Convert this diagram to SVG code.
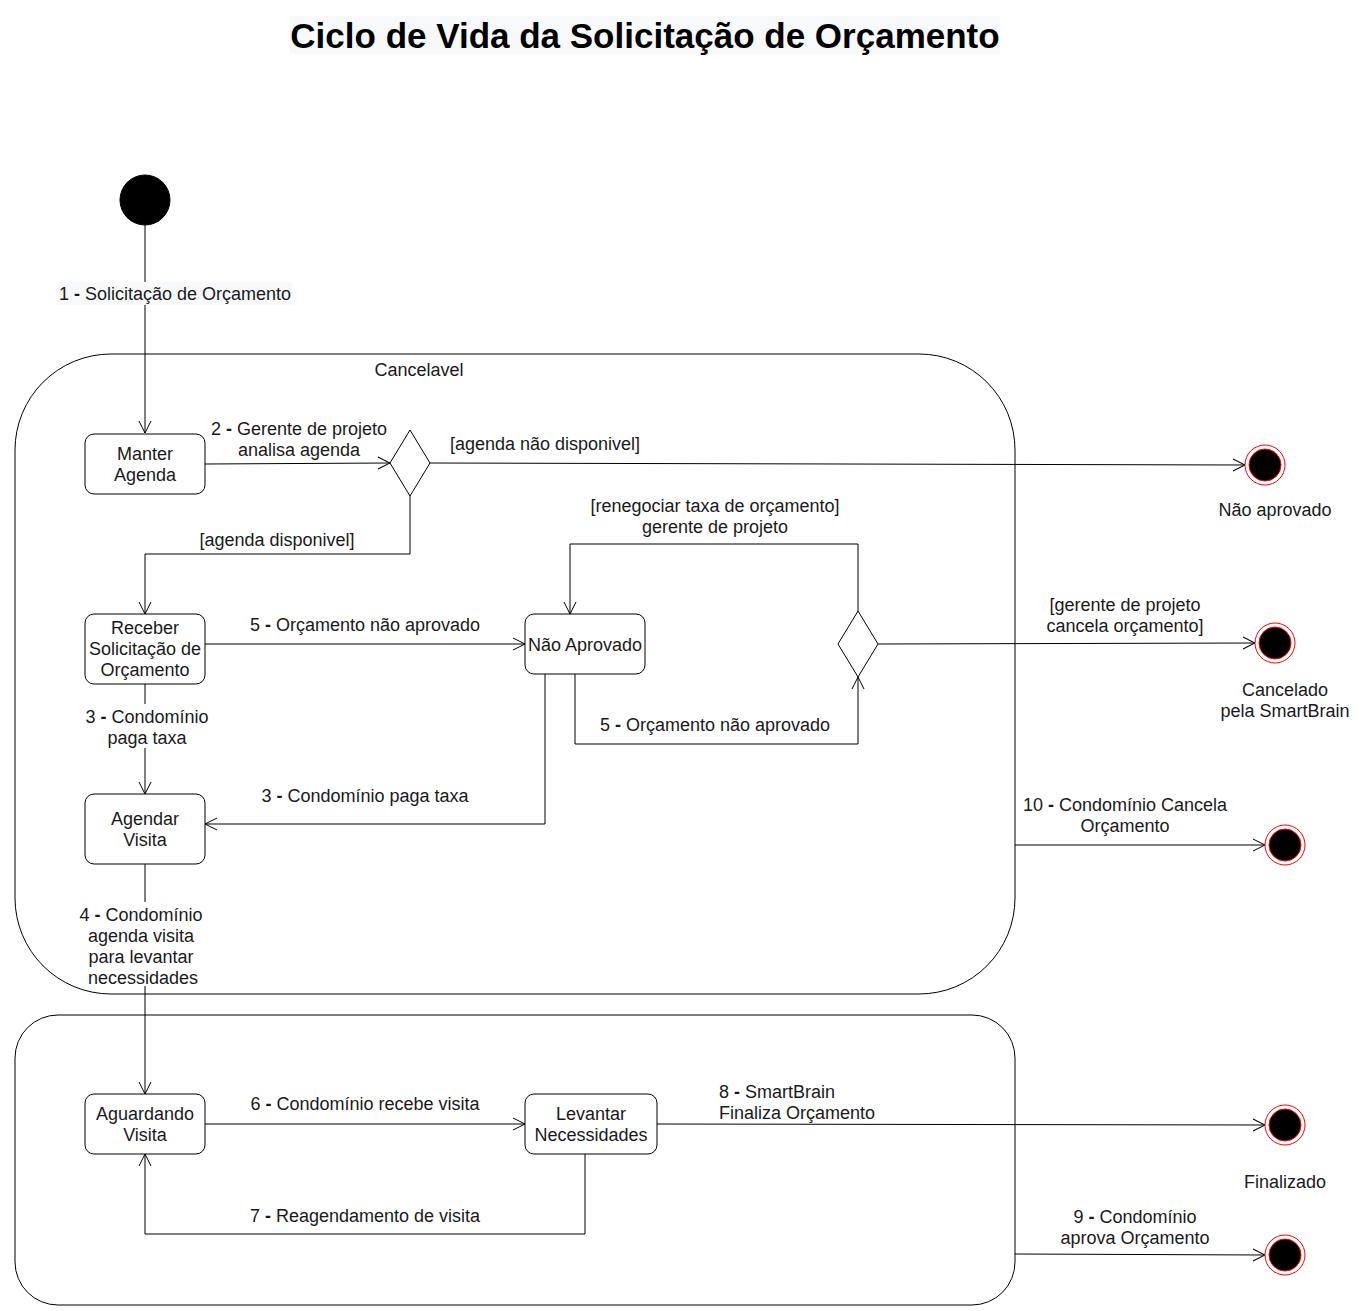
<svg xmlns="http://www.w3.org/2000/svg" width="1366" height="1311" viewBox="0 0 1366 1311">
<defs>
<style>
text{font-family:"Liberation Sans",Arial,sans-serif;font-size:18px;fill:#1a1a1a;text-anchor:middle}
.title{font-size:35px;font-weight:bold;fill:#000}
.node{fill:#fff;stroke:#000;stroke-width:1}
.cont{fill:none;stroke:#000;stroke-width:1}
.edge{fill:none;stroke:#000;stroke-width:1;marker-end:url(#arr)}
.bg{fill:#fff}
.fo{fill:#fff;stroke:#ff0000;stroke-width:1}
.fi{fill:#000;stroke:#ff0000;stroke-width:1}
</style>
<marker id="arr" markerUnits="userSpaceOnUse" viewBox="0 0 14 14" refX="13" refY="7" markerWidth="14" markerHeight="14" orient="auto">
<path d="M1,1 L13,7 L1,13" fill="none" stroke="#000" stroke-width="1"/>
</marker>
</defs>
<rect width="1366" height="1311" fill="#fff"/>
<rect x="290" y="16" width="710" height="38" fill="#f8f9fa"/>
<text class="title" x="645" y="48">Ciclo de Vida da Solicitação de Orçamento</text>

<g id="containers">
<rect id="cancelavel" class="cont" x="15" y="354" width="1000" height="640" rx="96" ry="96"/>
<text x="419" y="376">Cancelavel</text>
<rect id="fase2" class="cont" x="15" y="1015" width="1000" height="290" rx="43" ry="43"/>
</g>

<g id="connectors">
<path class="edge" d="M145,225 L145,433"/>
<path class="edge" d="M205,464 L390,463"/>
<path class="edge" d="M430,463 L1245,465"/>
<path class="edge" d="M410,496 L410,554 L145,554 L145,614"/>
<path class="edge" d="M205,644 L525,644"/>
<path class="edge" d="M575,674 L575,744 L858,744 L858,677"/>
<path class="edge" d="M858,611 L858,544 L570,544 L570,614"/>
<path class="edge" d="M878,644 L1255,643"/>
<path class="edge" d="M145,684 L145,794"/>
<path class="edge" d="M545,674 L545,824 L205,824"/>
<path class="edge" d="M1015,845 L1265,845"/>
<path class="edge" d="M145,864 L145,1094"/>
<path class="edge" d="M205,1124 L525,1124"/>
<path class="edge" d="M585,1154 L585,1234 L145,1234 L145,1154"/>
<path class="edge" d="M657,1124 L1265,1125"/>
<path class="edge" d="M1015,1254 L1265,1255"/>
</g>

<g id="labels">
<rect x="58" y="282" width="235" height="23" fill="#f8f9fa"/>
<text x="175" y="300">1 <tspan font-weight="bold">-</tspan> Solicitação de Orçamento</text>
<text x="299" y="435">2 <tspan font-weight="bold">-</tspan> Gerente de projeto</text>
<text x="299" y="456">analisa agenda</text>
<text x="545" y="450">[agenda não disponivel]</text>
<text x="277" y="546">[agenda disponivel]</text>
<text x="715" y="512">[renegociar taxa de orçamento]</text>
<text x="715" y="533">gerente de projeto</text>
<text x="365" y="631">5 <tspan font-weight="bold">-</tspan> Orçamento não aprovado</text>
<text x="1125" y="611">[gerente de projeto</text>
<text x="1125" y="632">cancela orçamento]</text>
<rect class="bg" x="82" y="704" width="130" height="44"/>
<text x="147" y="723">3 <tspan font-weight="bold">-</tspan> Condomínio</text>
<text x="147" y="744">paga taxa</text>
<text x="715" y="731">5 <tspan font-weight="bold">-</tspan> Orçamento não aprovado</text>
<text x="365" y="802">3 <tspan font-weight="bold">-</tspan> Condomínio paga taxa</text>
<text x="1125" y="811">10 <tspan font-weight="bold">-</tspan> Condomínio Cancela</text>
<text x="1125" y="832">Orçamento</text>
<rect class="bg" x="82" y="902" width="124" height="84"/>
<text x="141" y="921">4 <tspan font-weight="bold">-</tspan> Condomínio</text>
<text x="141" y="942">agenda visita</text>
<text x="141" y="963">para levantar</text>
<text x="143" y="984">necessidades</text>
<text x="365" y="1110">6 <tspan font-weight="bold">-</tspan> Condomínio recebe visita</text>
<text x="719" y="1098" style="text-anchor:start">8 <tspan font-weight="bold">-</tspan> SmartBrain</text>
<text x="719" y="1119" style="text-anchor:start">Finaliza Orçamento</text>
<text x="365" y="1222">7 <tspan font-weight="bold">-</tspan> Reagendamento de visita</text>
<text x="1135" y="1223">9 <tspan font-weight="bold">-</tspan> Condomínio</text>
<text x="1135" y="1244">aprova Orçamento</text>
</g>

<g id="inicio">
<circle cx="145" cy="200" r="25" fill="#000" stroke="#000"/>
</g>

<g id="manter-agenda">
<rect class="node" x="85" y="434" width="120" height="60" rx="9"/>
<text x="145" y="460">Manter</text>
<text x="145" y="481">Agenda</text>
</g>

<g id="decisao-agenda">
<polygon class="node" points="410,430 430,463 410,496 390,463"/>
</g>

<g id="receber-solicitacao">
<rect class="node" x="85" y="614" width="120" height="70" rx="9"/>
<text x="145" y="634">Receber</text>
<text x="145" y="655">Solicitação de</text>
<text x="145" y="676">Orçamento</text>
</g>

<g id="nao-aprovado">
<rect class="node" x="525" y="614" width="120" height="60" rx="9"/>
<text x="585" y="651">Não Aprovado</text>
</g>

<g id="decisao-renegociar">
<polygon class="node" points="858,611 878,644 858,677 838,644"/>
</g>

<g id="agendar-visita">
<rect class="node" x="85" y="794" width="120" height="70" rx="9"/>
<text x="145" y="825">Agendar</text>
<text x="145" y="846">Visita</text>
</g>

<g id="aguardando-visita">
<rect class="node" x="85" y="1094" width="120" height="60" rx="9"/>
<text x="145" y="1120">Aguardando</text>
<text x="145" y="1141">Visita</text>
</g>

<g id="levantar-necessidades">
<rect class="node" x="525" y="1094" width="132" height="60" rx="9"/>
<text x="591" y="1120">Levantar</text>
<text x="591" y="1141">Necessidades</text>
</g>

<g id="fim-nao-aprovado">
<circle class="fo" cx="1265" cy="465" r="20"/>
<circle class="fi" cx="1265" cy="465" r="16"/>
<text x="1275" y="516">Não aprovado</text>
</g>

<g id="fim-cancelado">
<circle class="fo" cx="1275" cy="643" r="20"/>
<circle class="fi" cx="1275" cy="643" r="16"/>
<text x="1285" y="696">Cancelado</text>
<text x="1285" y="717">pela SmartBrain</text>
</g>

<g id="fim-cancela-condominio">
<circle class="fo" cx="1285" cy="845" r="20"/>
<circle class="fi" cx="1285" cy="845" r="16"/>
</g>

<g id="fim-finalizado">
<circle class="fo" cx="1285" cy="1125" r="20"/>
<circle class="fi" cx="1285" cy="1125" r="16"/>
<text x="1285" y="1188">Finalizado</text>
</g>

<g id="fim-aprovado">
<circle class="fo" cx="1285" cy="1255" r="20"/>
<circle class="fi" cx="1285" cy="1255" r="16"/>
</g>
</svg>
